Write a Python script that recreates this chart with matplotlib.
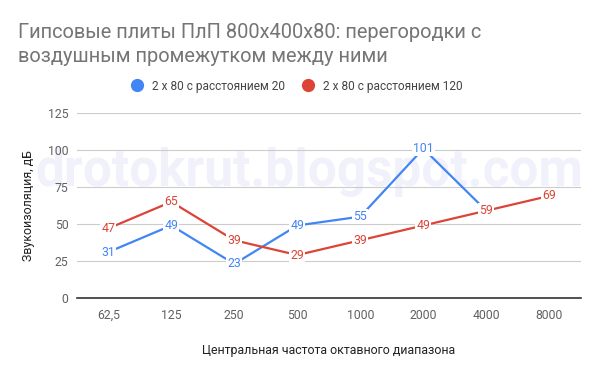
import matplotlib.pyplot as plt
import numpy as np

plt.rcParams['font.family'] = ['Roboto', 'DejaVu Sans']

freqs = ['62,5', '125', '250', '500', '1000', '2000', '4000', '8000']
gap20 = [31, 49, 23, 49, 55, 101, 59]
gap120 = [47, 65, 39, 29, 39, 49, 59, 69]
yticks = [0, 25, 50, 75, 100, 125]

blue = '#4285F4'
red = '#DB4437'
grey = '#757575'

fig = plt.figure(figsize=(6, 3.71), dpi=100, facecolor='white')
ax = fig.add_axes([0.128, 0.197, 0.840, 0.498])

fig.text(0.03, 0.898, "Гипсовые плиты ПлП 800x400x80: перегородки с",
         fontsize=14.4, color=grey, ha='left', va='baseline')
fig.text(0.03, 0.833, "воздушным промежутком между ними",
         fontsize=14.4, color=grey, ha='left', va='baseline')

# watermark, behind grid and tick labels
ax.text(0.515, 0.536, "drotokrut.blogspot.com", fontsize=37, fontweight='bold',
        color='#f1f1fc', ha='center', va='center', zorder=0.5,
        transform=fig.transFigure, clip_on=False)

x20 = np.arange(len(gap20))
x120 = np.arange(len(gap120))
ax.plot(x20, gap20, color=blue, lw=1.6, zorder=3, label='2 x 80 с расстоянием 20')
ax.plot(x120, gap120, color=red, lw=1.6, zorder=3, label='2 x 80 с расстоянием 120')

for xi, v in zip(x20, gap20):
    ax.text(xi, v, str(v), color=blue, fontsize=8.8, ha='center', va='center', zorder=4,
            bbox=dict(boxstyle='square,pad=0.08', fc='white', ec='none'))
for xi, v in zip(x120, gap120):
    ax.text(xi, v, str(v), color=red, fontsize=8.8, ha='center', va='center', zorder=5,
            bbox=dict(boxstyle='square,pad=0.08', fc='white', ec='none'))

ax.set_xlim(-0.5, len(freqs) - 0.5)
ax.set_ylim(0, 125)
ax.set_xticks(range(len(freqs)))
ax.set_xticklabels(freqs)
ax.set_yticks(yticks)
ax.patch.set_visible(False)
ax.grid(axis='y', color='#cccccc', lw=0.8)
ax.tick_params(length=0, labelsize=8.8, labelcolor='#616161', pad=8)
ax.tick_params(axis='y', pad=6)
for s in ['top', 'right', 'left']:
    ax.spines[s].set_visible(False)
ax.spines['bottom'].set_color('#333333')
ax.spines['bottom'].set_linewidth(1.2)

ax.set_xlabel("Центральная частота октавного диапазона", fontsize=8.9, color='#222222', labelpad=16)
ax.set_ylabel("Звукоизоляция, дБ", fontsize=8.9, color='#222222', labelpad=9)

leg = fig.legend(handles=ax.get_lines(), loc='center', bbox_to_anchor=(0.5, 0.768), ncol=2,
                 frameon=False, fontsize=8.6, handlelength=0, handletextpad=1.25, columnspacing=1.9,
                 labelcolor='#444444')
for h, c in zip(leg.legend_handles, [blue, red]):
    h.set_marker('o')
    h.set_markersize(8.5)
    h.set_markerfacecolor(c)
    h.set_markeredgecolor(c)
    h.set_linestyle('none')

fig.savefig('out.png', dpi=100, facecolor='white')
